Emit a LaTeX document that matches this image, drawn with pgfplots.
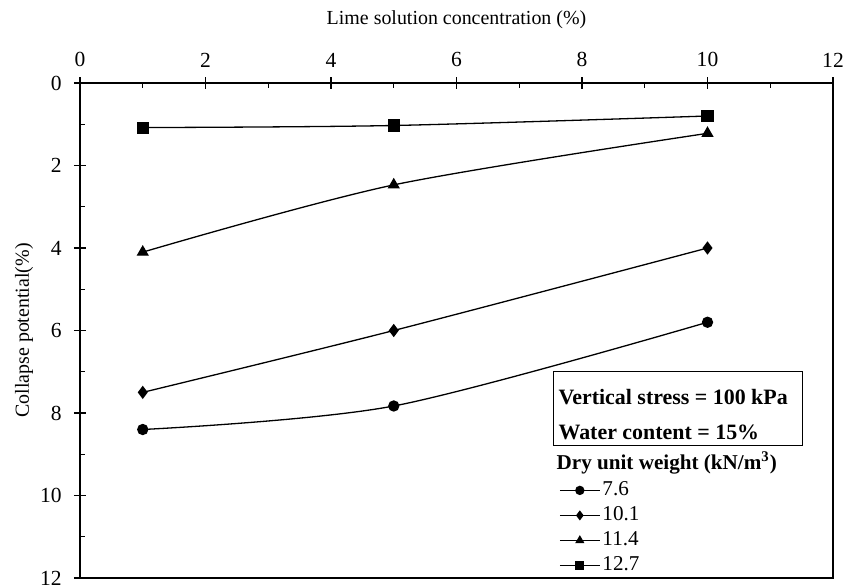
\documentclass[border=0pt]{standalone}
\usepackage{pgfplots}
\pgfplotsset{compat=1.18}
\usepackage{fontspec}
\setmainfont{Liberation Serif}
\begin{document}
\begin{tikzpicture}
\begin{axis}[
  name=ax,
  scale only axis,
  width=376.5bp, height=247.5bp,
  xmin=0, xmax=12, ymin=0, ymax=12,
  y dir=reverse,
  xtick={0,2,...,12}, ytick={0,2,...,12},
  minor x tick num=1, minor y tick num=1,
  xtick pos=upper, xticklabel pos=upper, ytick pos=left,
  tick align=inside,
  major tick length=3bp, minor tick length=2.5bp,
  extra x ticks={0,2,...,12}, extra x tick labels={},
  extra y ticks={0,2,...,12}, extra y tick labels={},
  extra x tick style={tick align=outside, major tick length=3bp},
  extra y tick style={tick align=outside, major tick length=3bp},
  tick style={black, line width=0.6bp},
  axis line style={line width=0.6bp},
  /pgf/number format/assume math mode=true,
  ticklabel style={font=\fontsize{10.8}{12}\selectfont},
  xticklabel style={yshift=4.4bp},
  yticklabel style={xshift=-5.7bp},
  xlabel={Lime solution concentration (\%)},
  ylabel={Collapse potential(\%)},
  label style={font=\fontsize{10}{12}\selectfont},
  xlabel style={at={(axis description cs:0.5,1.127)}, anchor=center},
  ylabel style={at={(axis description cs:-0.0744,0.5)}, anchor=center, rotate=0},
  every axis plot/.append style={black, line width=0.65bp, smooth},
  legend style={draw=none, fill=none, at={(axis cs:7.63,9.6)}, anchor=north west,
    inner sep=0pt, row sep=1.5bp,
    nodes={inner sep=1bp, text height=7bp, text depth=2bp, font=\fontsize{10.6}{12}\selectfont}},
  legend cell align=left,
  legend image code/.code={\draw[mark repeat=2,mark phase=2,#1,mark size=2bp] plot coordinates {(0bp,0bp) (10bp,0bp) (20bp,0bp)};},
]
\addplot[mark=*, mark size=2.5bp] coordinates {(1,8.4) (5,7.83) (10,5.8)};
\addlegendentry{7.6}
\addplot[mark=diamond*, mark size=2.8bp] coordinates {(1,7.5) (5,6.0) (10,4.0)};
\addlegendentry{10.1}
\addplot[mark=triangle*, mark size=2.9bp] coordinates {(1,4.1) (5,2.47) (10,1.22)};
\addlegendentry{11.4}
\addplot[mark=square*, mark size=2.7bp] coordinates {(1,1.08) (5,1.03) (10,0.8)};
\addlegendentry{12.7}
\draw[line width=0.6bp, fill=white] (axis cs:7.55,7.0) rectangle (axis cs:11.52,8.78);
\node[anchor=west, inner sep=0pt, font=\fontsize{11}{13}\selectfont\bfseries] at (axis cs:7.62,7.61) {Vertical stress = 100 kPa};
\node[anchor=west, inner sep=0pt, font=\fontsize{11}{13}\selectfont\bfseries] at (axis cs:7.62,8.48) {Water content = 15\%};
\node[anchor=west, inner sep=0pt, font=\fontsize{10.6}{12}\selectfont\bfseries] at (axis cs:7.59,9.21) {Dry unit weight (kN/m\textsuperscript{3})};
\end{axis}
\pgfresetboundingbox
\path ([shift={(-40bp,-4.5bp)}]ax.south west) rectangle ([shift={(11.5bp,41.5bp)}]ax.north east);
\end{tikzpicture}
\end{document}
